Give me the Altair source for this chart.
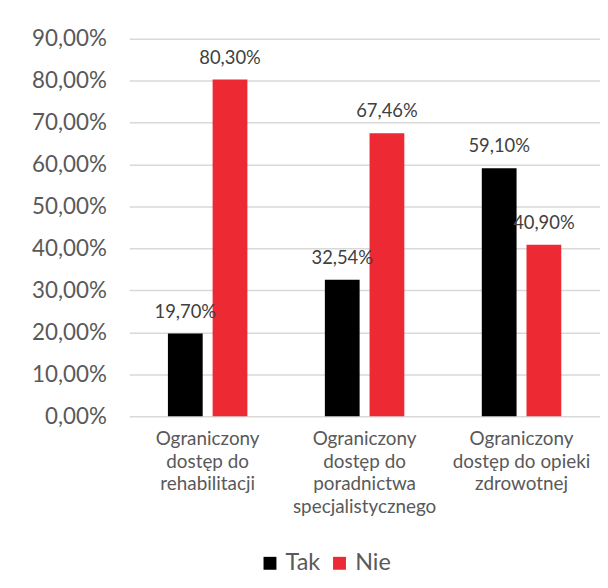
import altair as alt
import pandas as pd

categories = [
    "Ograniczony\ndostęp do\nrehabilitacji",
    "Ograniczony\ndostęp do\nporadnictwa\nspecjalistycznego",
    "Ograniczony\ndostęp do opieki\nzdrowotnej",
]
series = ["Tak", "Nie"]
tak_values = [0.1970, 0.3254, 0.5910]
nie_values = [0.8030, 0.6746, 0.4090]
colors = ["#000000", "#ED2A33"]

rows = []
for c, t, n in zip(categories, tak_values, nie_values):
    rows.append({"cat": c, "series": "Tak", "value": t})
    rows.append({"cat": c, "series": "Nie", "value": n})
df = pd.DataFrame(rows)

FONT = "Lato"
GRID = "#d9d9d9"

x = alt.X("cat:N", sort=categories, title=None,
          scale=alt.Scale(paddingInner=0, paddingOuter=0),
          axis=alt.Axis(labelAngle=0, labelExpr="split(datum.label, '\\n')",
                        labelFontSize=19, labelColor="#595959", labelFont=FONT,
                        labelLineHeight=22.5, labelPadding=14, labelBaseline="top",
                        ticks=False, domain=False, grid=False, labelLimit=300))
xo = alt.XOffset("series:N", sort=series,
                 scale=alt.Scale(paddingInner=0.2222, paddingOuter=0.8667))
y = alt.Y("value:Q", title=None,
          scale=alt.Scale(domain=[0, 0.9], nice=False),
          axis=alt.Axis(values=[i / 10 for i in range(10)],
                        labelExpr="replace(format(datum.value, '.2%'), '.', ',')",
                        labelFontSize=22.5, labelColor="#595959", labelFont=FONT,
                        labelPadding=23, ticks=False, domain=False,
                        gridColor=GRID, gridWidth=1.5))

base = alt.Chart(df)

bars = base.mark_bar().encode(
    x=x, xOffset=xo, y=y,
    color=alt.Color("series:N", sort=series,
                    scale=alt.Scale(domain=series, range=colors),
                    legend=alt.Legend(title=None, orient="none", legendX=130, legendY=516,
                                      direction="horizontal", symbolType="square",
                                      symbolSize=169, symbolStrokeWidth=0,
                                      labelFontSize=23.5, labelFont=FONT, labelColor="#595959",
                                      labelOffset=4, columnPadding=7, padding=0)),
)

labels = base.transform_calculate(
    lbl="replace(format(datum.value, '.2%'), '.', ',')"
).mark_text(fontSize=18.5, font=FONT, color="#404040", dy=-16, baseline="alphabetic").encode(
    x=x, xOffset=xo, y=y, text="lbl:N"
)

chart = (
    alt.layer(bars, labels)
    .properties(
        width=474, height=380,
        autosize=alt.AutoSizeParams(type="none"),
        padding={"left": 122, "top": 29, "right": 0, "bottom": 160},
        view=alt.ViewBackground(stroke="transparent", strokeWidth=0),
    )
    .configure_view(stroke="transparent", strokeWidth=0)
    .configure(background="white")
)

chart.save("out.html", embed_options={"renderer": "svg", "actions": False})
